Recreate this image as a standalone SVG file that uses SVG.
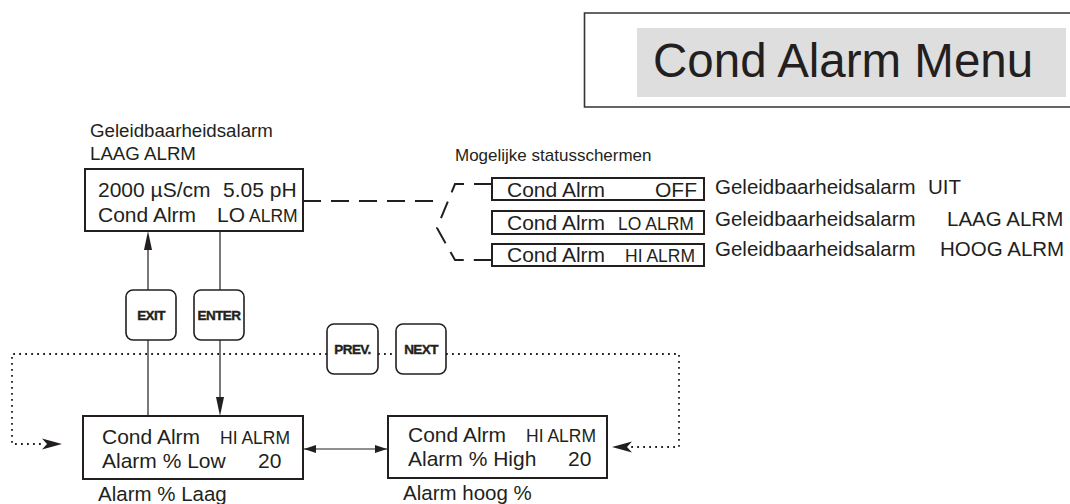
<svg xmlns="http://www.w3.org/2000/svg" width="1070" height="504" viewBox="0 0 1070 504">
<style>
text{font-family:"Liberation Sans",Arial,sans-serif;fill:#231f20}
.t{font-size:21px}
.s{font-size:17.5px}
.lbl{font-size:20.5px}
.lbs{font-size:18.7px}
.box{fill:#fff;stroke:#231f20;stroke-width:2}
.btn{fill:#fff;stroke:#231f20;stroke-width:1.6}
.bt{font-family:"Liberation Sans",Arial,sans-serif;font-weight:bold;font-size:13.5px;letter-spacing:-0.6px;text-anchor:middle;stroke:#231f20;stroke-width:0.4}
.ln{fill:none;stroke:#231f20;stroke-width:1.2}
.dash{fill:none;stroke:#231f20;stroke-width:2;stroke-dasharray:18 10}
.dot{fill:none;stroke:#231f20;stroke-width:1.8;stroke-dasharray:1.8 4.2}
.ah{fill:#231f20}
</style>
<defs>
<marker id="arr" viewBox="0 0 12 8" refX="12" refY="4" markerWidth="12" markerHeight="8" markerUnits="userSpaceOnUse" orient="auto-start-reverse">
<path d="M0,0 L12,4 L0,8 Z" class="ah"/>
</marker>
</defs>
<g id="title">
<path d="M1070,13 H584.5 V107 H1070" fill="none" stroke="#333" stroke-width="1.6"/>
<rect x="637" y="28" width="429" height="69" fill="#dedede"/>
<text x="653" y="77" style="font-size:47.5px">Cond Alarm Menu</text>
</g>
<g id="connectors">
<path class="dash" d="M303,201 H442"/>
<path class="dash" d="M492,184 H455 L437,228 L455,260 H492"/>
<line class="ln" x1="148" y1="416" x2="148" y2="248"/>
<path class="ah" d="M148,231 L152,250 L144,250 Z"/>
<line class="ln" x1="220" y1="231" x2="220" y2="398"/>
<path class="ah" d="M220,416 L224,397 L216,397 Z"/>
<line class="ln" x1="304" y1="449" x2="387" y2="449" marker-start="url(#arr)" marker-end="url(#arr)"/>
<path class="dot" d="M327,354 H12 V444 H44"/>
<path class="ah" d="M62,444 L42,438.5 L47,444 L42,449.5 Z"/>
<path class="dot" d="M378,354 H396"/>
<path class="dot" d="M446,354 H679 V447 H630"/>
<path class="ah" d="M612,447 L632,441.5 L627,447 L632,452.5 Z"/>
</g>
<g id="node-main">
<text class="lbs" x="90" y="137">Geleidbaarheidsalarm</text>
<text class="lbs" x="90" y="160">LAAG ALRM</text>
<rect class="box" x="85" y="169" width="218" height="62"/>
<text class="t" x="98" y="197">2000 µS/cm</text>
<text class="t" x="223" y="197">5.05 pH</text>
<text class="t" x="98" y="222">Cond Alrm</text>
<text x="217" y="222"><tspan class="t">LO</tspan><tspan class="s" dx="4">ALRM</tspan></text>
</g>
<g id="node-status">
<text x="455" y="161" style="font-size:17px">Mogelijke statusschermen</text>
<rect class="box" x="492" y="178" width="212" height="22"/>
<text class="t" x="507" y="197">Cond Alrm</text>
<text class="t" x="655" y="197">OFF</text>
<text class="lbl" x="715" y="194">Geleidbaarheidsalarm</text>
<text class="lbl" x="928" y="194">UIT</text>
<rect class="box" x="492" y="211" width="212" height="23"/>
<text class="t" x="507" y="230">Cond Alrm</text>
<text class="s" x="618" y="230">LO ALRM</text>
<text class="lbl" x="715" y="226">Geleidbaarheidsalarm</text>
<text class="lbl" x="947" y="226">LAAG ALRM</text>
<rect class="box" x="492" y="244" width="212" height="22"/>
<text class="t" x="507" y="262">Cond Alrm</text>
<text class="s" x="625" y="262">HI ALRM</text>
<text class="lbl" x="715" y="256">Geleidbaarheidsalarm</text>
<text class="lbl" x="940" y="256">HOOG ALRM</text>
</g>
<g id="btn-exit">
<rect class="btn" x="126" y="290" width="50" height="50" rx="7"/>
<text class="bt" x="151" y="320">EXIT</text>
</g>
<g id="btn-enter">
<rect class="btn" x="194" y="290" width="50" height="50" rx="7"/>
<text class="bt" x="219" y="320">ENTER</text>
</g>
<g id="btn-prev">
<rect class="btn" x="327" y="324" width="51" height="50" rx="7"/>
<text class="bt" x="352.5" y="354">PREV.</text>
</g>
<g id="btn-next">
<rect class="btn" x="396" y="324" width="50" height="50" rx="7"/>
<text class="bt" x="421" y="354">NEXT</text>
</g>
<g id="node-low">
<rect class="box" x="83" y="416" width="220" height="63"/>
<text class="t" x="102" y="444">Cond Alrm</text>
<text class="s" x="220" y="444">HI ALRM</text>
<text class="t" x="102" y="468">Alarm % Low</text>
<text class="t" x="258" y="468">20</text>
<text class="lbl" x="98" y="501">Alarm % Laag</text>
</g>
<g id="node-high">
<rect class="box" x="388" y="416" width="219" height="62"/>
<text class="t" x="408" y="442">Cond Alrm</text>
<text class="s" x="526" y="442">HI ALRM</text>
<text class="t" x="408" y="466">Alarm % High</text>
<text class="t" x="568" y="466">20</text>
<text class="lbl" x="403" y="500">Alarm hoog %</text>
</g>
</svg>
